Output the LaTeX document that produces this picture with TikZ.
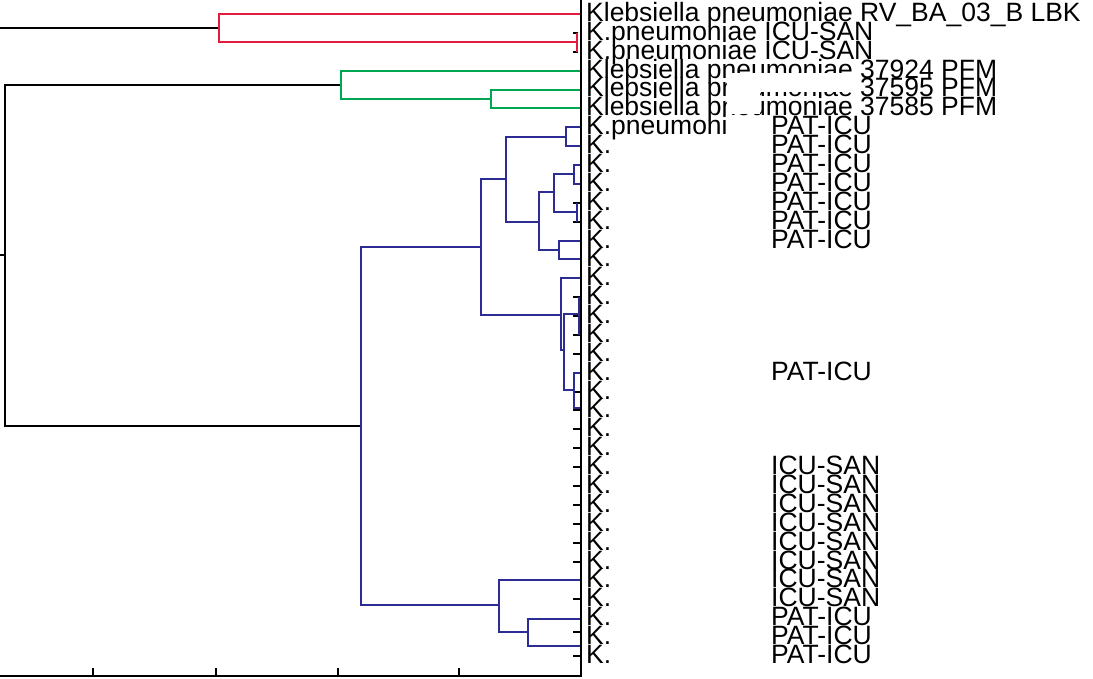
\documentclass[tikz,border=0pt]{standalone}
\usepackage{fontspec}
\setmainfont{Liberation Sans}
\definecolor{cred}{RGB}{226,28,62}
\definecolor{cgreen}{RGB}{0,166,82}
\definecolor{cblue}{RGB}{44,44,148}
\begin{document}
\begin{tikzpicture}[x=1pt,y=-1pt,
  ln/.style={line width=2pt, line cap=butt, line join=miter},
  blk/.style={ln, black},
  rd/.style={ln, cred},
  gr/.style={ln, cgreen},
  bl/.style={ln, cblue},
  lab/.style={anchor=base west, inner sep=0pt, font=\fontsize{26.5}{26.5}\selectfont}]
\useasboundingbox (0,0) rectangle (1093,679);
\fill[white] (0,0) rectangle (1093,679);

% leaf coordinates
\foreach \i in {1,...,35}{
  \pgfmathsetmacro\yy{14+(\i-1)*18.88}
  \coordinate (L\i) at (580,\yy);
  \coordinate (T\i) at (573,\yy);
}

% ---------- labels ----------
\node[lab] (n1) at (586,21.5) {Klebsiella pneumoniae RV\_BA\_03\_B LBK};
\node[lab] (n2) at (586,40.4) {K.pneumoniae ICU-SAN};
\node[lab] (n3) at (586,59.3) {K.pneumoniae ICU-SAN};
\node[lab] (n4) at (586,78.1) {Klebsiella pneumoniae 37924 PFM};
\node[lab] (n5) at (586,97.0) {Klebsiella pneumoniae 37595 PFM};
\node[lab] (n6) at (586,115.9) {Klebsiella pneumoniae 37585 PFM};
\fill[white] (727,73) rectangle (857,92);
\fill[white] (727,92) rectangle (760,114);
\node[lab] (n7) at (586,134.8) {K.pneumoni};
\foreach \i in {8,...,35}{
  \pgfmathsetmacro\yb{21.5+(\i-1)*18.88}
  \node[lab] (n\i) at (586,\yb) {K.};
}
\foreach \i in {7,...,13,20,33,34,35}{
  \pgfmathsetmacro\yb{21.5+(\i-1)*18.88}
  \node[lab] (p\i) at (771,\yb) {PAT-ICU};
}
\foreach \i in {25,...,32}{
  \pgfmathsetmacro\yb{21.5+(\i-1)*18.88}
  \node[lab] (s\i) at (771,\yb) {ICU-SAN};
}

% ---------- axes ----------
\coordinate (ax0) at (0,676);
\coordinate (ax1) at (581,676);
\coordinate (lt) at (581,0);
\draw[blk] (lt) -- (ax1) -- (ax0);
\foreach \x in {93,216,338,459}{
  \coordinate (tk\x) at (\x,676);
  \draw[blk] (tk\x) -- ++(0,-8);
}

% ---------- leaf ticks ----------
\foreach \i in {11,12,16,17,18,19,21,22,23,24,25,26,27,28,29,30,32,35}{
  \draw[blk] (T\i) -- ++(8,0);
}
\coordinate (T34b) at (573,632);
\draw[blk] (T34b) -- ++(8,0);

% ---------- internal nodes ----------
\coordinate (root) at (5,255);
\coordinate (rootin) at (0,255);
\coordinate (R) at (219,28.5);
\coordinate (Rin) at (0,28.5);
\coordinate (R23) at (577,42);
\coordinate (G) at (341,85);
\coordinate (G56) at (491,99);
\coordinate (B) at (361,426);
\coordinate (B1) at (481,247);
\coordinate (B11) at (506,179);
\coordinate (B111) at (566,137);
\coordinate (B112) at (539,222);
\coordinate (B1121) at (554,192);
\coordinate (B11211) at (574,174.5);
\coordinate (B11212) at (577,212);
\coordinate (B1122) at (559,250);
\coordinate (B12) at (561,315);
\coordinate (B121) at (564,350);
\coordinate (B1211) at (579,314);
\coordinate (B1212) at (574,390);
\coordinate (B2) at (499,605);
\coordinate (B21) at (528,632);
\coordinate (X20) at (580,372.7);
\coordinate (X22) at (580,408);
\coordinate (X33) at (580,619);
\coordinate (X34) at (580,646);

% black root
\draw[blk] (rootin) -- (root);
\draw[blk] (root) |- (G);
\draw[blk] (root) |- (B);
\draw[blk] (Rin) -- (R);

% red cluster
\draw[rd] (R) |- (L1);
\draw[rd] (R) |- (R23);
\draw[blk] (T2) -- ++(5,0);
\draw[blk] (T3) -- ++(5,0);
\draw[rd] (R23 |- L2) -- (R23 |- L3);

% green cluster
\draw[gr] (G) |- (L4);
\draw[gr] (G) |- (G56);
\draw[gr] (G56) |- (L5);
\draw[gr] (G56) |- (L6);

% blue cluster
\draw[bl] (B) |- (B1);
\draw[bl] (B) |- (B2);
\draw[bl] (B1) |- (B11);
\draw[bl] (B1) |- (B12);
\draw[bl] (B11) |- (B111);
\draw[bl] (B11) |- (B112);
\draw[bl] (B111) |- (L7);
\draw[bl] (B111) |- (L8);
\draw[bl] (B112) |- (B1121);
\draw[bl] (B112) |- (B1122);
\draw[bl] (B1121) |- (B11211);
\draw[bl] (B1121) |- (B11212);
\draw[bl] (B11211) |- (L9);
\draw[bl] (B11211) |- (L10);
\draw[bl] (B11212 |- L11) -- (B11212 |- L12);
\draw[bl] (B1122) |- (L13);
\draw[bl] (B1122) |- (L14);
\draw[bl] (B12) |- (L15);
\draw[bl] (B12) |- (B121);
\draw[bl] (B121) |- (B1211);
\draw[bl] (B121) |- (B1212);
\draw[bl] (B1211 |- L16) -- (B1211 |- L18);
\draw[bl] (B1212) |- (X20);
\draw[bl] (B1212) |- (X22);
\draw[bl] (B2) |- (L31);
\draw[bl] (B2) |- (B21);
\draw[bl] (B21) |- (X33);
\draw[bl] (B21) |- (X34);
\end{tikzpicture}
\end{document}
